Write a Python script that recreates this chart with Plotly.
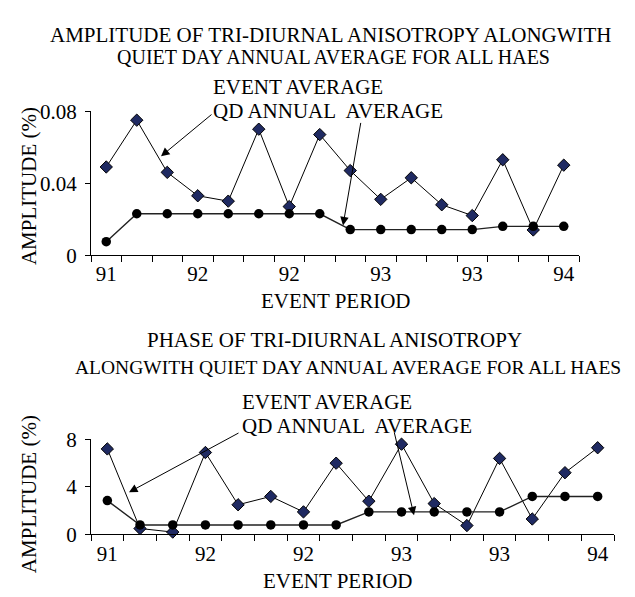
import plotly.graph_objects as go

# ---------------- data ----------------
event_no = [1, 2, 3, 4, 5, 6, 7, 8, 9, 10, 11, 12, 13, 14, 15, 16]
tick_pos = [1, 4, 7, 10, 13, 16]
tick_labels = ["91", "92", "92", "93", "93", "94"]

amp_event = [0.049, 0.075, 0.046, 0.033, 0.030, 0.070, 0.027, 0.067,
             0.047, 0.031, 0.043, 0.028, 0.022, 0.053, 0.014, 0.050]
amp_qd = [0.0075, 0.023, 0.023, 0.023, 0.023, 0.023, 0.023, 0.023,
          0.0142, 0.0142, 0.0142, 0.0142, 0.0142, 0.016, 0.016, 0.016]

phase_event = [7.2, 0.5, 0.2, 6.9, 2.5, 3.2, 1.9, 6.0,
               2.8, 7.6, 2.6, 0.75, 6.4, 1.3, 5.2, 7.3]
phase_qd = [2.85, 0.8, 0.8, 0.8, 0.8, 0.8, 0.8, 0.8,
            1.9, 1.9, 1.9, 1.9, 1.9, 3.2, 3.2, 3.2]

W, H = 635, 597
FONT = "Liberation Serif"
NAVY = "#1f2a62"


def px(x):
    return x / W


def py(y):
    return 1 - y / H


fig = go.Figure()

def add_pair(ev, qd, xa, ya):
    fig.add_trace(go.Scatter(x=event_no, y=ev, xaxis=xa, yaxis=ya, mode="lines+markers",
                             line=dict(color="black", width=1),
                             marker=dict(symbol="diamond", size=9.5, color=NAVY,
                                         line=dict(color="black", width=1)),
                             cliponaxis=False, showlegend=False))
    fig.add_trace(go.Scatter(x=event_no, y=qd, xaxis=xa, yaxis=ya, mode="lines+markers",
                             line=dict(color="#222222", width=1.4),
                             marker=dict(symbol="circle", size=9.5, color="black"),
                             cliponaxis=False, showlegend=False))

add_pair(amp_event, amp_qd, "x", "y")
add_pair(phase_event, phase_qd, "x2", "y2")

xcommon = dict(range=[0.5, 16.5], tickmode="array", tickvals=tick_pos, ticktext=tick_labels,
               ticks="", showline=True, linecolor="black", linewidth=1, showgrid=False,
               zeroline=False, ticklabelstandoff=0,
               tickfont=dict(family=FONT, size=21, color="black"),
               minor=dict(tick0=0.5, dtick=1, ticks="outside", ticklen=6,
                          tickcolor="black", tickwidth=1, showgrid=False))
ycommon = dict(showline=True, linecolor="black", linewidth=1, showgrid=False, zeroline=False,
               ticks="outside", ticklen=5, tickcolor="black", ticklabelstandoff=4,
               tickfont=dict(family=FONT, size=21, color="black"))

fig.update_layout(
    width=W, height=H, margin=dict(l=0, r=0, t=0, b=0),
    paper_bgcolor="white", plot_bgcolor="white",
    xaxis=dict(domain=[px(83), px(571)], anchor="y", **xcommon),
    yaxis=dict(domain=[py(245), py(95)], anchor="x", range=[0, 0.08],
               tickvals=[0, 0.04, 0.08], ticktext=["0", "0.04", "0.08"], **ycommon),
    xaxis2=dict(domain=[px(83), px(606)], anchor="y2", **xcommon),
    yaxis2=dict(domain=[py(536), py(437)], anchor="x2", range=[0, 8],
                tickvals=[0, 4, 8], ticktext=["0", "4", "8"], **ycommon),
)

def text(x, y, s, size=21, xanchor="center", angle=0):
    fig.add_annotation(x=px(x), y=py(y), xref="paper", yref="paper", text=s, showarrow=False,
                       xanchor=xanchor, yanchor="middle", textangle=angle, borderpad=0,
                       font=dict(family=FONT, size=size, color="black"))

def arrow(hx, hy, tx, ty):
    fig.add_annotation(x=px(hx), y=py(hy), xref="paper", yref="paper", ax=tx - hx, ay=ty - hy,
                       axref="pixel", ayref="pixel", text="", showarrow=True,
                       arrowhead=2, arrowsize=1.7, arrowwidth=1, arrowcolor="black")

# titles
text(323, 16, "AMPLITUDE OF TRI-DIURNAL ANISOTROPY ALONGWITH", 21)
text(325, 39, "QUIET DAY ANNUAL AVERAGE FOR ALL HAES", 20)
text(328, 293, "EVENT PERIOD", 21)
text(326, 333, "PHASE OF TRI-DIURNAL ANISOTROPY", 21)
text(340, 362, "ALONGWITH QUIET DAY ANNUAL AVERAGE FOR ALL HAES", 19.5)
text(330, 584, "EVENT PERIOD", 21)

# y axis titles
text(21, 173, "AMPLITUDE (%)", 21, angle=-90)
text(21, 494, "AMPLITUDE (%)", 21, angle=-90)

# top chart labels and arrows
text(204, 70, "EVENT AVERAGE", 21, xanchor="left")
text(204, 94.5, "QD ANNUAL\u00a0 AVERAGE", 21, xanchor="left")
arrow(153, 142, 205, 99)
arrow(335, 214, 353, 110)

# bottom chart labels and arrows
text(233, 398, "EVENT AVERAGE", 21, xanchor="left")
text(233, 422.5, "QD ANNUAL\u00a0 AVERAGE", 21, xanchor="left")
arrow(121, 492, 232, 432)
arrow(406, 516, 386, 432)

fig.write_html("out.html")
